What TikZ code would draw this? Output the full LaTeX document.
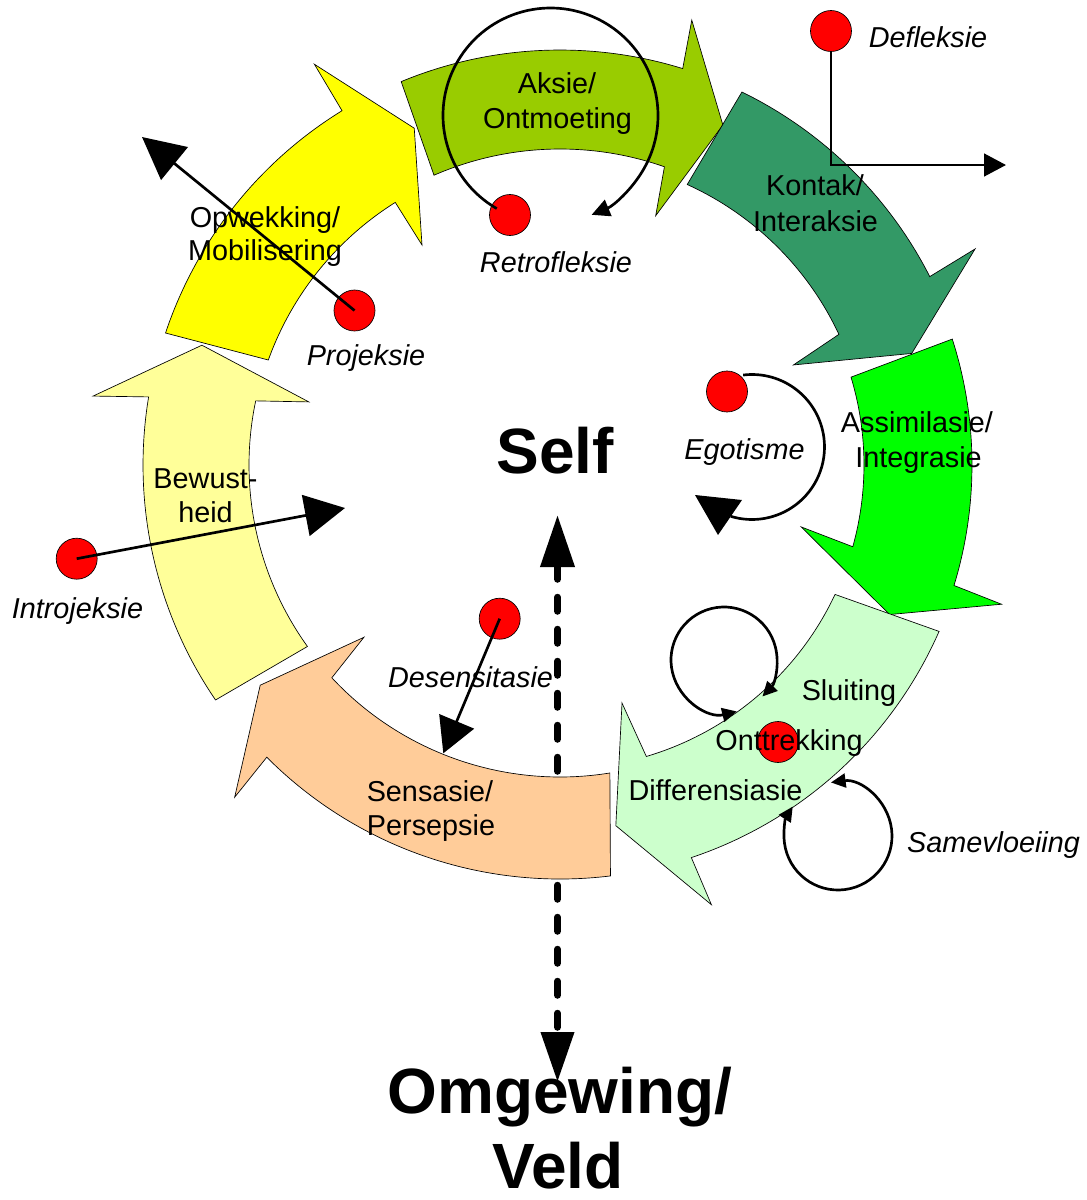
\documentclass[tikz,border=0pt]{standalone}
\usepackage{fontspec}
\setmainfont{Liberation Sans}
\usetikzlibrary{arrows.meta}
\definecolor{aksiecol}{HTML}{99CC00}
\definecolor{kontakcol}{HTML}{339966}
\definecolor{assimcol}{HTML}{00FF00}
\definecolor{sluitcol}{HTML}{CCFFCC}
\definecolor{senscol}{HTML}{FFCC99}
\definecolor{bewcol}{HTML}{FFFF99}
\definecolor{opwcol}{HTML}{FFFF00}
\begin{document}
\begin{tikzpicture}[x=0.75pt,y=0.75pt,
  blk/.style={draw=black, line width=0.5pt, line join=miter},
  dot/.style={circle, fill=red, draw=black, line width=0.5pt, minimum size=30.75pt, inner sep=0pt},
  lbl/.style={font=\fontsize{21.6pt}{26pt}\selectfont, inner sep=0pt, anchor=base},
  ilbl/.style={font=\fontsize{21.6pt}{26pt}\selectfont\itshape, inner sep=0pt, anchor=base},
  big/.style={font=\fontsize{48pt}{58pt}\selectfont\bfseries, inner sep=0pt, anchor=base},
  con/.style={line width=2pt},
]
\useasboundingbox (0,0) rectangle (1086,-1200);

% dashed Self <-> Omgewing arrow
\coordinate (sv1) at (557.5,-515);
\coordinate (sv2) at (557.5,-1082);
\draw[line width=5.25pt, dash pattern=on 10.5pt off 13.5pt, line cap=round,
  {Triangle[length=39pt,width=24.75pt]}-{Triangle[length=37.5pt,width=24pt]}] (sv1) -- (sv2);

% block arrows of the cycle
\begin{scope}[shift={(560,-465)}]
\filldraw[blk, fill=bewcol] (214.3:417) -- (215.7:311) arc[start angle=215.7, end angle=168.1, radius=311]
  -- (165.9:259) -- (161.5:377.6) -- (171.6:472) -- (170.6:417) arc[start angle=170.6, end angle=214.3, radius=417] -- cycle;
\filldraw[blk, fill=opwcol] (161.5:416) -- (160.2:310) arc[start angle=160.2, end angle=122.1, radius=310]
  -- (122.1:259.7) -- (113.4:367) -- (121.5:470) -- (121.6:416) arc[start angle=121.6, end angle=161.5, radius=416] -- cycle;
\filldraw[blk, fill=aksiecol] (112.5:415) -- (113.5:316) arc[start angle=113.5, end angle=70.7, radius=316]
  -- (69:267) -- (64.4:377) -- (73.5:464) -- (72.8:415) arc[start angle=72.8, end angle=112.5, radius=415] -- cycle;
\filldraw[blk, fill=kontakcol] (64:415) -- (65.6:308) arc[start angle=65.6, end angle=25.1, radius=308]
  -- (23.2:254) -- (17.6:369) -- (27.5:468) -- (27:415) arc[start angle=27, end angle=64, radius=415] -- cycle;
\filldraw[blk, fill=assimcol] (17.8:412) -- (16.8:304) arc[start angle=16.8, end angle=-15.6, radius=304]
  -- (-14.4:249) -- (-24.4:362) -- (-17.5:463) -- (-17:412) arc[start angle=-17, end angle=17.8, radius=412] -- cycle;
\filldraw[blk, fill=sluitcol] (-23.7:414) -- (-25.2:304) arc[start angle=-25.2, end angle=-73.5, radius=304]
  -- (-75.4:246) -- (-81.2:365) -- (-71:465) -- (-71.5:414) arc[start angle=-71.5, end angle=-23.7, radius=414] -- cycle;
\filldraw[blk, fill=senscol] (-83:414) -- (-80.8:312) arc[start angle=-80.8, end angle=-137, radius=312]
  -- (-138.7:261) -- (-143.7:372) -- (-134.4:465) -- (-135.1:414) arc[start angle=-135.1, end angle=-83, radius=414] -- cycle;
\end{scope}

% red dots
\node[dot] (defl) at (831,-31) {};
\node[dot] (retro) at (510,-215) {};
\node[dot] (proj) at (354.5,-310.5) {};
\node[dot] (ego) at (727,-391.5) {};
\node[dot] (intro) at (76.7,-558.7) {};
\node[dot] (desens) at (499.7,-618.7) {};
\node[dot] (onttr) at (778,-742) {};

% connectors
\coordinate (deflend) at (1006,-165);
\draw[con, -{Triangle[length=16.5pt,width=17pt]}] (defl.south) |- (deflend);
\coordinate (projend) at (142,-137);
\draw[con, -{Triangle[length=31.5pt,width=31.5pt]}] (proj.center) -- (projend);
\coordinate (introend) at (345,-508);
\draw[con, -{Triangle[length=30pt,width=31pt]}] (intro.center) -- (introend);
\coordinate (desensend) at (443.3,-753.3);
\draw[con, -{Triangle[length=26pt,width=28pt]}] (desens.center) -- (desensend);

\coordinate (retroc) at (550.5,-115.5);
\draw[con, -{Triangle[length=13.5pt,width=13pt]}] ([shift={(240:107.5)}]retroc) arc[start angle=240, end angle=-67.5, radius=107.5];

\coordinate (egoc) at (752,-447);
\draw[con] ([shift={(97:72.5)}]egoc) arc[start angle=97, end angle=-107, radius=72.5];
\fill (695,-495) -- (742,-500) -- (718,-535) -- cycle;

\coordinate (sluitc) at (724,-660);
\draw[con, {Triangle[length=11pt,width=10.5pt]}-{Triangle[length=11pt,width=10.5pt]}]
  ([shift={(-76:53)}]sluitc) arc[start angle=-76, end angle=-403.5, radius=53];
\coordinate (samec) at (838,-836);
\draw[con, {Triangle[length=11pt,width=10.5pt]}-{Triangle[length=11pt,width=10.5pt]}]
  ([shift={(97.5:54)}]samec) arc[start angle=97.5, end angle=-213, radius=54];

% stage labels
\node[lbl] (aksie1) at (557,-93) {Aksie/};
\node[lbl] (aksie2) at (557.5,-128) {Ontmoeting};
\node[lbl] (kontak1) at (815,-195) {Kontak/};
\node[lbl] (kontak2) at (815.5,-231) {Interaksie};
\node[lbl] (opw1) at (265,-227) {Opwekking/};
\node[lbl] (opw2) at (265,-260) {Mobilisering};
\node[lbl] (bew1) at (205.5,-488) {Bewust-};
\node[lbl] (bew2) at (205.5,-522) {heid};
\node[lbl] (assim1) at (917,-432) {Assimilasie/};
\node[lbl] (assim2) at (918.5,-467) {Integrasie};
\node[lbl] (sluit) at (849,-700) {Sluiting};
\node[lbl] (onttrl) at (789,-750) {Onttrekking};
\node[lbl] (diff) at (715.5,-800) {Differensiasie};
\node[lbl] (sens1) at (430,-801) {Sensasie/};
\node[lbl] (sens2) at (431,-835) {Persepsie};

% disturbance labels
\node[ilbl] (defll) at (928,-47) {Defleksie};
\node[ilbl] (retrol) at (556,-272) {Retrofleksie};
\node[ilbl] (projl) at (366,-365) {Projeksie};
\node[ilbl] (egol) at (744.5,-459) {Egotisme};
\node[ilbl] (introl) at (77.5,-618) {Introjeksie};
\node[ilbl] (desensl) at (470.5,-687) {Desensitasie};
\node[ilbl] (samel) at (993.5,-852) {Samevloeiing};

% big labels
\node[big] (self) at (555,-473) {Self};
\node[big] (omg1) at (560,-1113) {Omgewing/};
\node[big] (omg2) at (558,-1188) {Veld};
\end{tikzpicture}
\end{document}
